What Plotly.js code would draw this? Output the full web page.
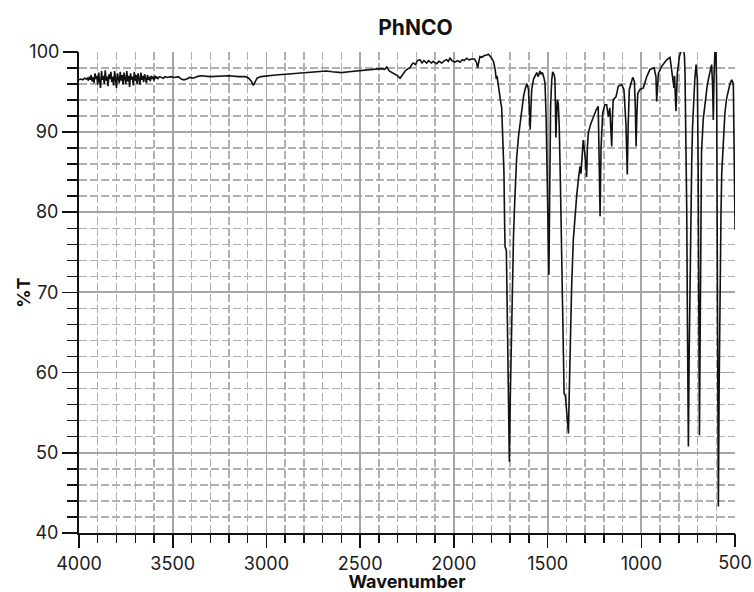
<!DOCTYPE html>
<html>
<head>
<meta charset="utf-8">
<script src="https://cdn.plot.ly/plotly-3.0.1.min.js"></script>
<style>html,body{margin:0;padding:0;background:#fff}#chart{width:754px;height:592px}</style>
</head>
<body>
<div id="chart"></div>
<script>
// Wavenumber (cm-1) and %T
const wavenumber = [
4000,3990,3980,3970,3962,3955,3950,3945,3940,3935,3930,3925,3920,3915,3910,3905,3900,3895,3890,3885,
3880,3875,3870,3865,3860,3855,3850,3845,3840,3835,3830,3825,3820,3815,3810,3805,3800,3795,3790,3785,
3780,3775,3770,3765,3760,3755,3750,3745,3740,3735,3730,3725,3720,3715,3710,3705,3700,3695,3690,3685,
3680,3675,3670,3665,3660,3655,3650,3645,3640,3635,3630,3625,3620,3615,3610,3605,3600,3595,3590,3585,
3580,3570,3560,3550,3540,3530,3510,3490,3470,3455,3440,3425,3410,3390,3370,3350,3300,3250,3200,3150,
3110,3095,3080,3070,3062,3050,3030,3000,2950,2900,2850,2800,2750,2700,2680,2650,2620,2600,2560,2520,
2480,2450,2420,2390,2370,2358,2345,2320,2300,2287,2275,2260,2245,2234,2225,2216,2205,2195,2181,2170,
2160,2145,2135,2120,2110,2092,2080,2065,2050,2039,2030,2021,2010,1995,1980,1967,1955,1945,1932,1920,
1905,1890,1880,1873,1866,1861,1850,1840,1825,1816,1805,1795,1789,1780,1774,1770,1762,1752,1745,1738,
1733,1729,1727,1720,1714,1710,1704,1699,1695,1691,1686,1682,1676,1670,1665,1655,1645,1638,1628,1618,
1610,1602,1596,1593,1589,1585,1575,1567,1558,1550,1541,1535,1528,1520,1514,1508,1502,1497,1493,1489,
1486,1484,1478,1473,1466,1461,1458,1456,1452,1448,1443,1438,1432,1428,1425,1420,1415,1412,1405,1399,
1393,1389,1385,1380,1372,1363,1355,1345,1335,1327,1322,1316,1310,1300,1292,1288,1283,1270,1256,1240,
1230,1225,1220,1215,1206,1195,1185,1176,1168,1162,1158,1154,1150,1135,1123,1105,1093,1082,1075,1070,
1064,1046,1037,1032,1028,1024,1019,1007,989,971,954,932,922,918,914,909,891,865,847,838,
830,826,823,820,815,810,808,797,785,775,770,767,762,758,754,749,745,740,737,735,
733,731,727,722,715,708,703,701,697,694,690,687,684,679,670,660,650,643,635,625,
620,616,612,607,602,598,594,589,585,580,575,571,563,554,545,536,527,518,512,509,
506,504,502,500
];
const transmittance = [
96.5,96.6,96.5,96.7,96.6,96.7,96.4,96.9,96.5,97.1,96.3,96.8,96.1,97.3,96.6,97.0,95.9,97.4,96.3,95.5,
97.6,96.5,97.0,96.0,97.7,96.4,96.9,95.7,97.2,96.6,97.5,96.2,96.9,95.8,97.6,96.3,95.5,97.3,96.8,96.1,
97.5,96.4,97.1,95.9,97.4,96.7,96.0,97.6,96.3,97.0,95.6,97.3,96.5,96.9,95.8,97.5,96.4,97.1,96.0,97.3,
96.6,95.9,97.4,96.5,97.0,96.2,97.2,96.6,96.1,97.1,96.5,96.9,96.3,97.0,96.6,96.9,96.4,97.0,96.7,96.9,
96.6,96.9,96.8,96.7,96.9,96.8,96.9,96.8,96.9,96.6,96.5,96.6,96.8,96.7,96.9,97.0,96.9,96.95,97.0,96.9,
96.9,96.7,96.3,95.8,96.2,96.7,96.9,97.0,97.1,97.2,97.3,97.4,97.5,97.6,97.6,97.5,97.4,97.4,97.5,97.6,
97.7,97.8,97.8,97.9,97.8,98.1,97.6,97.3,97.0,96.7,97.1,97.6,97.9,98.0,98.4,98.6,98.4,98.9,99.0,98.6,
98.9,98.6,98.9,98.6,98.8,98.5,98.8,98.6,98.9,99.0,98.8,99.2,98.9,98.7,98.9,98.7,99.0,98.9,99.2,99.0,
99.1,99.1,98.7,98.0,98.9,99.4,99.3,99.5,99.6,99.7,99.4,99.1,98.8,97.8,96.6,97.0,95.9,94.0,93.0,89.5,
85.0,78.0,75.7,75.2,65.0,56.0,48.9,57.0,63.0,67.0,73.0,77.0,81.0,84.5,86.8,89.5,91.5,92.8,94.5,95.5,
96.0,95.3,92.0,90.3,93.0,95.3,96.6,97.1,97.4,96.9,97.6,97.2,97.4,96.8,96.1,92.0,85.0,78.0,72.2,82.0,
90.0,93.2,96.5,97.5,97.2,96.6,93.0,89.3,92.0,94.0,93.5,90.7,84.0,78.0,72.4,65.0,59.5,57.4,57.1,55.0,
53.0,52.4,57.0,64.1,70.5,76.5,79.5,82.0,84.3,85.7,84.8,87.8,89.0,87.0,84.4,88.0,89.9,91.0,91.9,92.8,
93.2,88.0,79.5,88.0,92.4,93.4,93.4,91.9,93.0,90.0,88.2,92.0,94.0,94.4,95.7,95.9,95.3,91.0,84.7,91.0,
95.3,96.8,96.3,93.0,88.2,92.0,94.8,95.3,95.5,96.9,97.8,98.0,96.9,93.8,96.0,97.3,98.2,99.0,99.3,97.8,
96.5,95.5,97.0,94.4,92.6,96.0,97.3,99.4,100.3,100.3,99.5,97.3,90.0,80.7,66.0,50.8,62.0,72.4,80.0,83.6,
82.5,86.5,90.5,93.2,96.5,98.4,97.5,96.5,86.0,70.0,52.2,62.0,76.0,87.4,91.5,94.0,95.5,96.5,97.5,98.4,
96.0,91.5,97.0,100.3,100.3,95.0,70.0,43.3,58.0,72.4,80.0,84.9,89.5,92.4,94.2,95.3,96.0,96.5,96.2,95.7,
91.0,87.4,80.0,77.8
];
const xGridTicks = [4000,3500,3000,2500,2000,1500,1000];
const xEdgeTick = [500];
const yGridTicks = [40,50,60,70,80,90];
const yEdgeTick = [100];

const FONT = "Inter, 'Liberation Sans', Arial, sans-serif";
const INK = '#111111';

const spectrum = {
  x: wavenumber, y: transmittance, type: 'scatter', mode: 'lines',
  line: {color: INK, width: 1.6}, hoverinfo: 'skip', showlegend: false
};
// empty trace so the edge-tick axes (x2 / y2) get drawn
const edgeAxesHolder = {
  x: [], y: [], xaxis: 'x2', yaxis: 'y2', type: 'scatter', mode: 'lines',
  hoverinfo: 'skip', showlegend: false
};

const tickFont = {size: 18, family: FONT, color: '#1a1a1a'};
const majorGrid = {showgrid: true, gridcolor: '#a6a6a6', gridwidth: 1.8};
const minorGrid = {showgrid: true, gridcolor: '#b0b0b0', gridwidth: 1.4, griddash: '8px,3px'};

const layout = {
  width: 754, height: 592,
  margin: {l: 79, r: 19, t: 52, b: 59, pad: 0},
  paper_bgcolor: '#ffffff', plot_bgcolor: '#ffffff',
  font: {family: FONT, color: '#1a1a1a', size: 18},
  title: {text: '<b>PhNCO</b>', font: {family: FONT, size: 21, color: INK},
          xref: 'container', yref: 'container', x: 0.551, xanchor: 'center', y: 0.954, yanchor: 'middle'},
  xaxis: Object.assign({
    range: [4000, 500.3], tickvals: xGridTicks, ticktext: xGridTicks.map(String),
    ticks: 'outside', ticklen: 13, tickwidth: 1.6, tickcolor: INK,
    showline: true, linecolor: INK, linewidth: 2,
    zeroline: false, tickfont: tickFont,
    minor: Object.assign({dtick: 100, tick0: 0, ticks: 'outside', ticklen: 8, tickwidth: 1.4, tickcolor: INK}, minorGrid),
    title: {text: '<b>Wavenumber</b>', font: {size: 18, family: FONT, color: INK}, standoff: 13}
  }, majorGrid),
  xaxis2: {
    overlaying: 'x', anchor: 'y', side: 'bottom', range: [4000, 500],
    tickvals: xEdgeTick, ticktext: xEdgeTick.map(String),
    ticks: 'outside', ticklen: 13, tickwidth: 1.6, tickcolor: INK,
    showline: false, showgrid: false, zeroline: false, tickfont: tickFont
  },
  yaxis: Object.assign({
    range: [40, 99.97], tickvals: yGridTicks, ticktext: yGridTicks.map(String),
    ticks: 'outside', ticklen: 15, tickwidth: 1.6, tickcolor: INK,
    showline: true, linecolor: INK, linewidth: 2,
    zeroline: false, tickfont: tickFont,
    minor: Object.assign({dtick: 2, tick0: 0, ticks: 'outside', ticklen: 10, tickwidth: 1.4, tickcolor: INK}, minorGrid),
    title: {text: '<b>%T</b>', font: {size: 18, family: FONT, color: INK}, standoff: 0}
  }, majorGrid),
  yaxis2: {
    overlaying: 'y', anchor: 'x', side: 'left', range: [40, 100],
    tickvals: yEdgeTick, ticktext: yEdgeTick.map(String),
    ticks: 'outside', ticklen: 15, tickwidth: 1.6, tickcolor: INK,
    showline: false, showgrid: false, zeroline: false, tickfont: tickFont
  }
};

Plotly.newPlot('chart', [spectrum, edgeAxesHolder], layout, {displayModeBar: false, staticPlot: true});
</script>
</body>
</html>
